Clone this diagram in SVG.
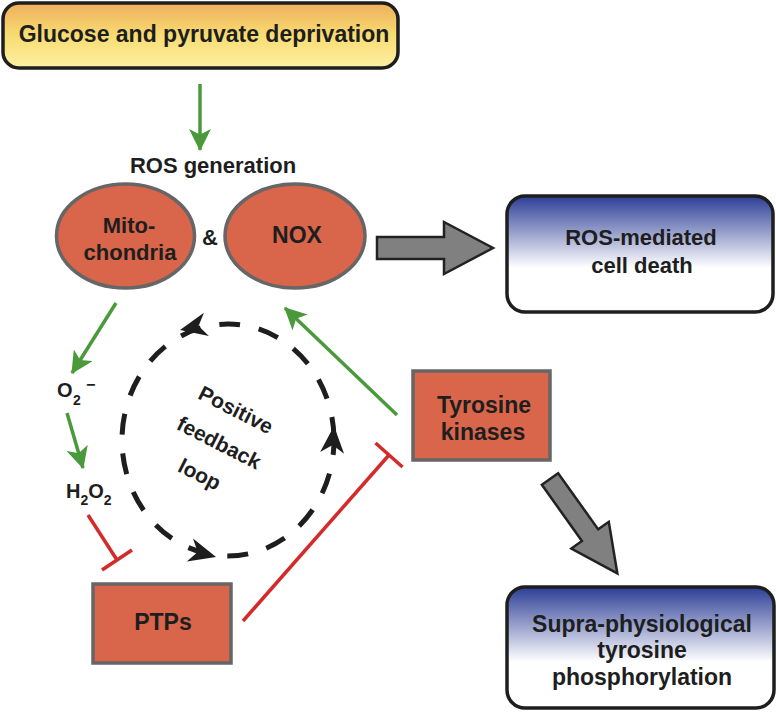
<svg xmlns="http://www.w3.org/2000/svg" width="776" height="715" viewBox="0 0 776 715">
<defs>
<linearGradient id="gY" x1="0" y1="0" x2="0" y2="1">
<stop offset="0" stop-color="#eeaf5c"/>
<stop offset="0.5" stop-color="#f8dc72"/>
<stop offset="1" stop-color="#fdf0a4"/>
</linearGradient>
<linearGradient id="gB" x1="0" y1="0" x2="0" y2="1">
<stop offset="0" stop-color="#2c3e96"/>
<stop offset="0.62" stop-color="#ffffff"/>
<stop offset="1" stop-color="#ffffff"/>
</linearGradient>
<marker id="ag" viewBox="0 0 20 20" refX="19" refY="10" markerWidth="22" markerHeight="22" markerUnits="userSpaceOnUse" orient="auto">
<path d="M0,0 L20,10 L0,20 L5,10 z" fill="#4a9a3c"/>
</marker>
</defs>
<style>
text{font-family:"Liberation Sans",Arial,sans-serif;font-weight:bold;fill:#1e1e1e;text-anchor:middle}
.n{fill:#d9654b;stroke:#666;stroke-width:3.5}
.g{stroke:#4a9a3c;stroke-width:3.5;fill:none;marker-end:url(#ag)}
.r{stroke:#d42a2a;stroke-width:3.5;fill:none}
.big{fill:#808080;stroke:#222;stroke-width:2.5;stroke-linejoin:miter}
.ah{fill:#1e1e1e}
.sm{text-anchor:start}
</style>

<g id="glucose">
<rect x="3" y="3" width="395" height="65" rx="16" fill="url(#gY)" stroke="#1e1e1e" stroke-width="3.5"/>
<text x="204" y="42" font-size="23">Glucose and pyruvate deprivation</text>
</g>

<g id="ros-generation">
<text x="213" y="173" font-size="22">ROS generation</text>
</g>

<g id="mitochondria">
<ellipse cx="125.5" cy="236" rx="69" ry="52" class="n"/>
<text x="129" y="233" font-size="22">Mito-</text>
<text x="130" y="260" font-size="22">chondria</text>
</g>

<g id="amp">
<text x="210" y="245" font-size="22">&amp;</text>
</g>

<g id="nox">
<ellipse cx="295" cy="236" rx="70" ry="52" class="n"/>
<text x="297" y="243" font-size="23">NOX</text>
</g>

<g id="cell-death">
<rect x="507" y="196" width="266" height="116" rx="18" fill="url(#gB)" stroke="#1e1e1e" stroke-width="3.5"/>
<text x="641" y="245" font-size="22">ROS-mediated</text>
<text x="642" y="273" font-size="22">cell death</text>
</g>

<g id="tyrosine-kinases">
<rect x="413" y="371" width="137" height="89" class="n"/>
<text x="484" y="413" font-size="23">Tyrosine</text>
<text x="483" y="440" font-size="23">kinases</text>
</g>

<g id="ptps">
<rect x="93" y="584" width="138" height="79" class="n"/>
<text x="163" y="630" font-size="23">PTPs</text>
</g>

<g id="supra">
<rect x="507" y="587" width="267" height="121" rx="18" fill="url(#gB)" stroke="#1e1e1e" stroke-width="3.5"/>
<text x="642" y="632" font-size="23">Supra-physiological</text>
<text x="642" y="658" font-size="23">tyrosine</text>
<text x="642" y="685" font-size="23">phosphorylation</text>
</g>

<g id="o2">
<text class="sm" x="57" y="397" font-size="20">O</text>
<text class="sm" x="73" y="405" font-size="14">2</text>
<text class="sm" x="86" y="390" font-size="16">−</text>
</g>

<g id="h2o2">
<text class="sm" x="66" y="498" font-size="20">H<tspan dy="7" font-size="14">2</tspan><tspan dy="-7">O</tspan><tspan dy="7" font-size="14">2</tspan></text>
</g>

<g id="loop-label" transform="translate(219,443) rotate(27)">
<text x="0" y="-30" font-size="21">Positive</text>
<text x="0" y="7" font-size="21">feedback</text>
<text x="-3" y="44" font-size="21">loop</text>
</g>

<g id="connectors">
<line x1="200" y1="84" x2="200" y2="150" class="g"/>
<line x1="116" y1="303" x2="72" y2="373" class="g"/>
<line x1="67" y1="413" x2="83" y2="468" class="g"/>
<line x1="397" y1="415" x2="285" y2="308" class="g"/>

<line x1="88" y1="515" x2="117" y2="560" class="r"/>
<line x1="102" y1="570" x2="132" y2="550" class="r"/>
<line x1="243" y1="621" x2="389" y2="455" class="r"/>
<line x1="375.5" y1="443" x2="402.5" y2="467" class="r"/>

<polygon class="big" transform="translate(377,248)" points="0,-11 67,-11 67,-26 116,0 67,26 67,11 0,11"/>
<polygon class="big" transform="translate(550,479) rotate(54.5)" points="0,-10 69,-10 69,-23 116,0 69,23 69,10 0,10"/>

<ellipse cx="228" cy="440" rx="106" ry="116" fill="none" stroke="#1e1e1e" stroke-width="5" stroke-dasharray="21 19" stroke-dashoffset="6"/>
<path class="ah" transform="translate(180,330) rotate(168)" d="M0,0 L-27,-12 L-19,0 L-27,12 Z"/>
<path class="ah" transform="translate(216,557) rotate(15)" d="M0,0 L-27,-12 L-19,0 L-27,12 Z"/>
<path class="ah" transform="translate(334,426) rotate(-86)" d="M0,0 L-27,-12 L-19,0 L-27,12 Z"/>
</g>
</svg>
